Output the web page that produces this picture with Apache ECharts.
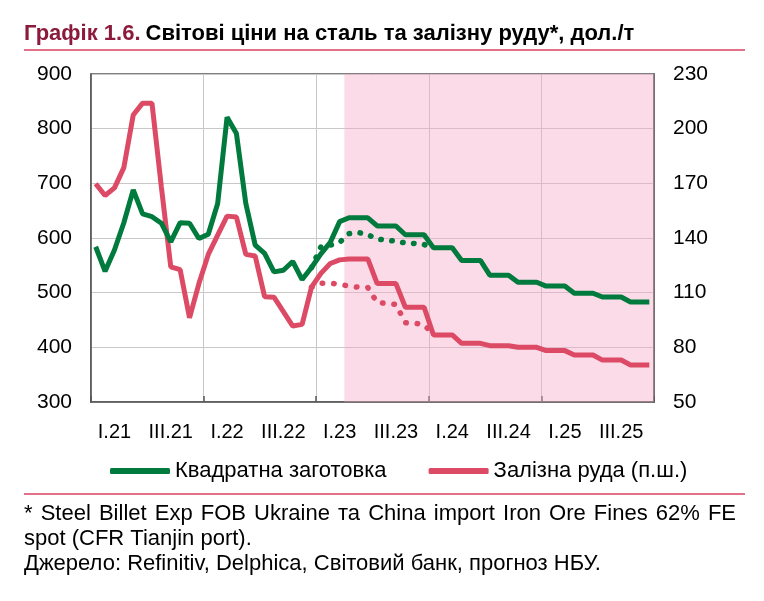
<!DOCTYPE html>
<html>
<head>
<meta charset="utf-8">
<script src="https://cdn.jsdelivr.net/npm/echarts@6/dist/echarts.min.js"></script>
<style>
html,body{margin:0;padding:0;background:#fff;}
#chart{width:764px;height:601px;}
</style>
</head>
<body>
<div id="chart"></div>
<script>
// ---- data ----
const years = ['21', '22', '23', '24', '25'];
const months = ['01','02','03','04','05','06','07','08','09','10','11','12'];
const xTickLabels = ['I.21','III.21','I.22','III.22','I.23','III.23','I.24','III.24','I.25','III.25'];
const steelBillet = [
  584, 539, 578, 628, 688, 644, 639, 627, 593, 628, 627, 599,
  607, 663, 821, 791, 663, 587, 572, 538, 541, 557, 524, 546,
  571, 592, 630, 637, 637, 637, 622, 622, 622, 606, 606, 606,
  582, 582, 582, 559, 559, 559, 532, 532, 532, 519, 519, 519,
  512, 512, 512, 499, 499, 499, 492, 492, 492, 483, 483, 483
];
const ironOre = [
  169.8, 163.3, 167.5, 178.6, 207.5, 214, 214, 168, 124.2, 122.6, 96.2, 115,
  131, 141.6, 152, 151.5, 131, 130.1, 107.8, 107.5, 99.6, 91.7, 92.6, 113,
  120.6, 126, 128, 128.5, 128.5, 128.5, 115, 115, 115, 102, 102, 102,
  86.8, 86.8, 86.8, 82.2, 82.2, 82.2, 80.9, 80.9, 80.9, 80, 80, 80,
  78.2, 78.2, 78.2, 75.8, 75.8, 75.8, 73, 73, 73, 70.3, 70.3, 70.3
];
const prevStart = 23;
const steelBilletPrev = [546, 584, 587, 592, 608, 610, 606, 598, 596, 594, 591, 590, 588, 582];
const ironOrePrev = [113, 115.2, 115.2, 114.6, 113.6, 113, 112.8, 104.5, 104.2, 103.5, 93.5, 93.2, 92.5, 86.8];
const forecastStart = 27;
const forecastEnd = 60;
const seriesNames = ['Квадратна заготовка', 'Залізна руда (п.ш.)'];
const footLines = [
  '* Steel Billet Exp FOB Ukraine та China import Iron Ore Fines 62% FE',
  'spot (CFR Tianjin port).',
  'Джерело: Refinitiv, Delphica, Світовий банк, прогноз НБУ.'
];

// ---- build ----
const categories = [];
years.forEach(y => months.forEach(m => categories.push(m + '.' + y)));
function pad(arr, start) {
  const out = categories.map(() => null);
  arr.forEach((v, i) => { out[start + i] = v; });
  return out;
}
const GREEN = '#007a3d';
const RED = '#dc4a66';
const FONT = '"Liberation Sans", Arial, sans-serif';
const FOOT_FONT = '22px ' + FONT;

// justified first footnote line
const ctx = document.createElement('canvas').getContext('2d');
ctx.font = FOOT_FONT;
const footGraphics = [];
(function () {
  const words = footLines[0].split(' ');
  const widths = words.map(w => ctx.measureText(w).width);
  const total = widths.reduce((a, b) => a + b, 0);
  const left = 24, right = 736;
  const gap = (right - left - total) / (words.length - 1);
  let x = left;
  words.forEach((w, i) => {
    footGraphics.push({type: 'text', x: x, y: 503, style: {text: w, font: FOOT_FONT, fill: '#000'}});
    x += widths[i] + gap;
  });
})();
footGraphics.push({type: 'text', x: 24, y: 528, style: {text: footLines[1], font: FOOT_FONT, fill: '#000'}});
footGraphics.push({type: 'text', x: 24, y: 553, style: {text: footLines[2], font: FOOT_FONT, fill: '#000'}});

const chart = echarts.init(document.getElementById('chart'), null, {renderer: 'canvas'});
chart.setOption({
  animation: false,
  backgroundColor: '#fff',
  textStyle: {fontFamily: FONT},
  title: {
    left: 24, top: 23, padding: 0,
    text: '{a|Графік 1.6.} {b|Світові ціни на сталь та залізну руду*, дол./т}',
    textStyle: {
      rich: {
        a: {fontSize: 22, fontWeight: 'bold', color: '#8c1a3c', fontFamily: FONT},
        b: {fontSize: 22, fontWeight: 'bold', color: '#000', fontFamily: FONT}
      }
    }
  },
  legend: {
    data: seriesNames,
    left: 110, top: 460, padding: 0,
    itemWidth: 60, itemHeight: 6, itemGap: 42,
    icon: 'roundRect',
    textStyle: {fontSize: 22, color: '#000', fontFamily: FONT, padding: [0, 0, 0, 0]}
  },
  grid: {
    left: 91, right: 110, top: 74, bottom: 199,
    show: true, borderColor: '#555', borderWidth: 1.5, backgroundColor: 'transparent'
  },
  xAxis: [{
    type: 'category',
    data: categories,
    boundaryGap: true,
    axisLine: {show: true, lineStyle: {color: '#555', width: 1.5}},
    axisTick: {show: true, inside: true, length: 6, interval: (i) => i % 12 === 0, lineStyle: {color: '#555', width: 1.5}},
    axisLabel: {
      interval: (i) => i % 6 === 2,
      formatter: (v, i) => xTickLabels[(i - 2) / 6] || '',
      fontSize: 20, color: '#000', margin: 20, fontFamily: FONT
    },
    splitLine: {show: true, interval: (i) => i % 12 === 0, lineStyle: {color: '#c8c8c8', width: 1}}
  }, {
    type: 'value', min: 0, max: 60, show: false
  }],
  yAxis: [{
    type: 'value', min: 300, max: 900, interval: 100,
    axisLine: {show: true, lineStyle: {color: '#555', width: 1.5}},
    axisTick: {show: false},
    axisLabel: {fontSize: 21, color: '#000', margin: 19, fontFamily: FONT},
    splitLine: {show: true, lineStyle: {color: '#c8c8c8', width: 1}}
  }, {
    type: 'value', min: 50, max: 230, interval: 30,
    axisLine: {show: true, lineStyle: {color: '#555', width: 1.5}},
    axisTick: {show: false},
    axisLabel: {fontSize: 21, color: '#000', margin: 19, fontFamily: FONT},
    splitLine: {show: false}
  }],
  series: [{
    name: 'forecast',
    type: 'line',
    xAxisIndex: 1, yAxisIndex: 0,
    data: [[forecastStart, 300], [forecastEnd, 300]],
    symbol: 'none', silent: true, z: -1,
    lineStyle: {opacity: 0},
    markArea: {
      silent: true,
      itemStyle: {color: 'rgba(246, 170, 200, 0.42)'},
      data: [[{xAxis: forecastStart}, {xAxis: forecastEnd}]]
    }
  }, {
    name: seriesNames[0] + ' prev',
    type: 'line', yAxisIndex: 0,
    data: pad(steelBilletPrev, prevStart),
    symbol: 'none', z: 3,
    lineStyle: {color: GREEN, width: 5.5, type: [0.5, 10.5], cap: 'round'}
  }, {
    name: seriesNames[1] + ' prev',
    type: 'line', yAxisIndex: 1,
    data: pad(ironOrePrev, prevStart),
    symbol: 'none', z: 3,
    lineStyle: {color: RED, width: 5.5, type: [0.5, 11], cap: 'round'}
  }, {
    name: seriesNames[1],
    type: 'line', yAxisIndex: 1,
    data: ironOre,
    symbol: 'none', z: 4,
    itemStyle: {color: RED},
    lineStyle: {color: RED, width: 5}
  }, {
    name: seriesNames[0],
    type: 'line', yAxisIndex: 0,
    data: steelBillet,
    symbol: 'none', z: 5,
    itemStyle: {color: GREEN},
    lineStyle: {color: GREEN, width: 5}
  }],
  graphic: [
    {type: 'line', shape: {x1: 24, y1: 50, x2: 745, y2: 50}, style: {stroke: '#d8405e', lineWidth: 1.5}},
    {type: 'line', shape: {x1: 24, y1: 494, x2: 745, y2: 494}, style: {stroke: '#d8405e', lineWidth: 1.5}}
  ].concat(footGraphics)
});
</script>
</body>
</html>
